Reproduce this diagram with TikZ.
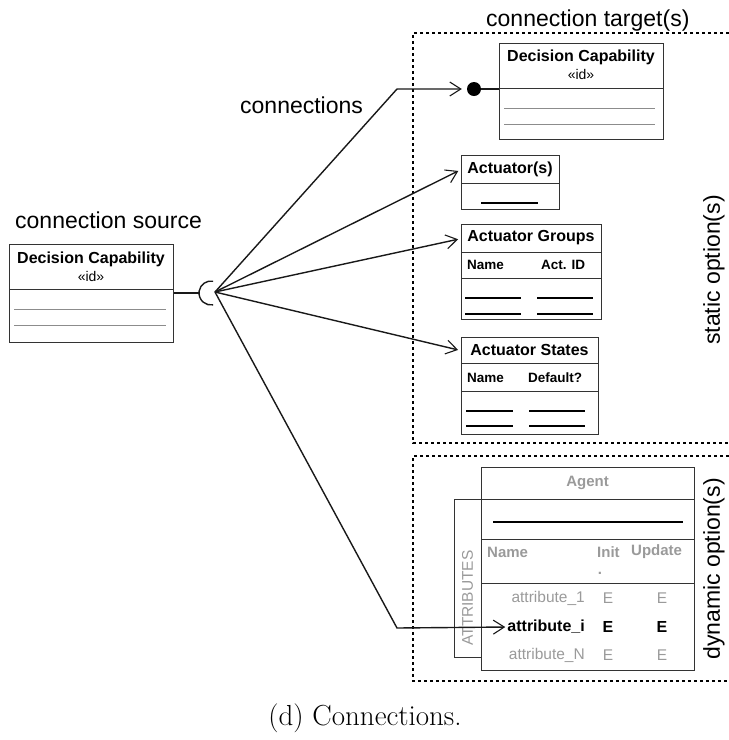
\documentclass[tikz,border=0pt]{standalone}
\usepackage{fontspec}
\newfontfamily\arial{Liberation Sans}
\usetikzlibrary{arrows.meta}
\definecolor{boxc}{HTML}{333333}
\definecolor{txtg}{HTML}{9A9A9A}
\definecolor{lineg}{HTML}{8C8C8C}
\tikzset{
  box/.style={draw=boxc, line width=1.2pt, inner sep=0pt, anchor=north west},
  gl/.style={draw=lineg, line width=0.9pt},
  ul/.style={draw=black, line width=1.1pt},
  conn/.style={line width=1.4pt, draw=black!90},
  tip/.style={-{Straight Barb[length=11pt,width=14pt,line width=1.1pt]}},
  region/.style={line width=1.6pt, dash pattern=on 3pt off 3pt},
  lab/.style={font=\arial\fontsize{23}{27}\selectfont, inner sep=0pt},
  bt/.style={font=\arial\bfseries\fontsize{16}{18}\selectfont, inner sep=0pt},
  rt/.style={font=\arial\fontsize{14}{16}\selectfont, inner sep=0pt},
  ht/.style={font=\arial\bfseries\fontsize{13.5}{16}\selectfont, inner sep=0pt},
  gbt/.style={font=\arial\bfseries\fontsize{15}{18}\selectfont, text=txtg, inner sep=0pt},
  grt/.style={font=\arial\fontsize{15.5}{18}\selectfont, text=txtg, inner sep=0pt},
}
\begin{document}
\begin{tikzpicture}[x=1pt,y=-1pt]
\useasboundingbox (0,0) rectangle (729,740);

% option regions
\draw[region] (729,33) -- (413,33) -- (413,443) -- (729,443);
\draw[region] (729,456) -- (413,456) -- (413,681) -- (729,681);

% labels
\node[lab, anchor=base west] (lsrc) at (15,228) {connection source};
\node[lab, anchor=base west] (lcon) at (240,113) {connections};
\node[lab, anchor=base west] (ltgt) at (486,26) {connection target(s)};
\node[lab, rotate=90] (lsta) at (714,270) {static option(s)};
\node[lab, rotate=90] (ldyn) at (714,569) {dynamic option(s)};
\node[font=\fontsize{29}{33}\selectfont, inner sep=0pt] (cap) at (365,718) {(d) Connections.};

% source box
\node[box, minimum width=164pt, minimum height=45pt] (srch) at (9,244) {};
\node[box, minimum width=164pt, minimum height=53pt] (srcb) at (9,289) {};
\node[bt] (srct) at (91,259) {Decision Capability};
\node[rt] (srci) at (91,276) {«id»};
\draw[gl] (14,309) -- (166,309);
\draw[gl] (14,325) -- (166,325);

% socket
\coordinate (sock) at (211,293);
\coordinate (sockl) at (199,293);
\coordinate (hub) at (215,292);
\draw[conn] (srcb.east |- sockl) -- (sockl);
\draw[conn] (213.1,281.2) arc[start angle=80, end angle=280, radius=12pt];

% target decision capability
\node[box, minimum width=164pt, minimum height=45pt] (tdch) at (499,43) {};
\node[box, minimum width=164pt, minimum height=51pt] (tdcb) at (499,88) {};
\node[bt] (tdct) at (581,57) {Decision Capability};
\node[rt] (tdci) at (581,74) {«id»};
\draw[gl] (504,108) -- (655,108);
\draw[gl] (504,124) -- (655,124);
\node[circle, fill=black, inner sep=0pt, minimum size=14pt] (ball) at (474,89) {};
\draw[conn] (ball) -- (ball -| tdcb.west);

% actuator(s)
\node[box, minimum width=98pt, minimum height=28pt] (acth) at (461,155) {};
\node[box, minimum width=98pt, minimum height=26pt] (actb) at (461,183) {};
\node[bt] (actt) at (510,169) {Actuator(s)};
\draw[ul] (481,203) -- (538,203);

% actuator groups
\node[box, minimum width=140pt, minimum height=28pt] (grph) at (461,224) {};
\node[box, minimum width=140pt, minimum height=26pt] (grpr) at (461,252) {};
\node[box, minimum width=140pt, minimum height=41pt] (grpb) at (461,278) {};
\node[bt] (grpt) at (531,238) {Actuator Groups};
\node[ht, anchor=west] (grpn) at (467,265) {Name};
\node[ht, anchor=west] (grpa) at (541,265) {Act. ID};
\draw[ul] (465,298) -- (521,298);
\draw[ul] (537,298) -- (593,298);
\draw[ul] (465,314) -- (521,314);
\draw[ul] (537,314) -- (593,314);

% actuator states
\node[box, minimum width=137pt, minimum height=26pt] (sth) at (461,337) {};
\node[box, minimum width=137pt, minimum height=28pt] (str) at (461,363) {};
\node[box, minimum width=137pt, minimum height=43pt] (stb) at (461,391) {};
\node[bt] (stt) at (529.5,350) {Actuator States};
\node[ht, anchor=west] (stn) at (467,378) {Name};
\node[ht, anchor=west] (std) at (528,378) {Default?};
\draw[ul] (466,411) -- (513,411);
\draw[ul] (529,411) -- (585,411);
\draw[ul] (466,426) -- (513,426);
\draw[ul] (529,426) -- (585,426);

% agent
\node[box, minimum width=213pt, minimum height=32pt] (agh) at (481,467) {};
\node[box, minimum width=213pt, minimum height=40pt] (ag2) at (481,499) {};
\node[box, minimum width=213pt, minimum height=44pt] (ag3) at (481,539) {};
\node[box, minimum width=213pt, minimum height=87pt] (ag4) at (481,583) {};
\node[box, minimum width=27pt, minimum height=158pt] (attbox) at (454,499) {};
\node[grt, rotate=90] (attt) at (467.5,598) {ATTRIBUTES};
\node[gbt] (agt) at (587.5,483) {Agent};
\draw[draw=black, line width=1.1pt] (493,522) -- (683,522);
\node[gbt, anchor=west] (agn) at (487,552) {Name};
\node[gbt, anchor=west] (agi) at (597,552) {Init};
\node[gbt] (agdot) at (600,573) {.};
\node[gbt, anchor=west] (agu) at (631,552) {Update};
\node[grt, anchor=east] (a1) at (585,598) {attribute\_1};
\node[grt] (a1i) at (608,598) {E};
\node[grt] (a1u) at (662,598) {E};
\node[bt, anchor=east] (ai) at (585,627) {attribute\_i};
\node[bt] (aii) at (608,627) {E};
\node[bt] (aiu) at (662,627) {E};
\node[grt, anchor=east] (an) at (585,655) {attribute\_N};
\node[grt] (ani) at (608,655) {E};
\node[grt] (anu) at (662,655) {E};

% connections
\coordinate (b1) at (397,89);
\coordinate (b2) at (397,628);
\draw[conn, tip, shorten >=5pt] (hub) -- (b1) -- (ball.west);
\draw[conn, tip, shorten >=3pt] (hub) -- (acth.west);
\draw[conn, tip, shorten >=3pt] (hub) -- (grph.west);
\draw[conn, tip, shorten >=3pt] (hub) -- (sth.west);
\draw[conn, tip, shorten >=2pt] (hub) -- (b2) -- (ai.west);
\end{tikzpicture}
\end{document}
